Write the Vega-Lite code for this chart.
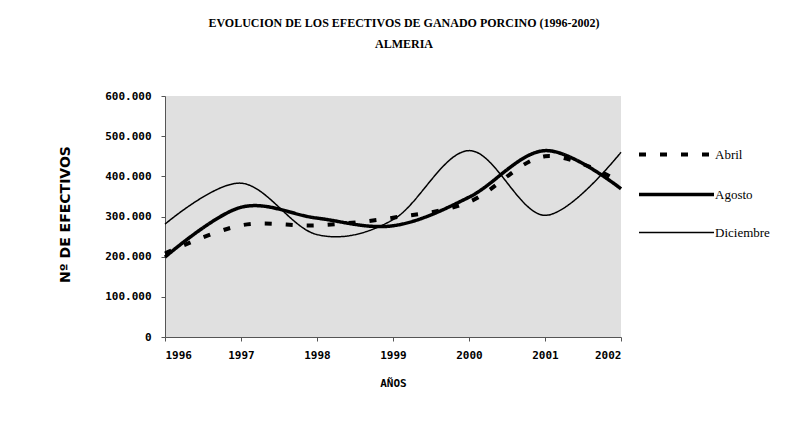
{
  "$schema": "https://vega.github.io/schema/vega-lite/v6.json",
  "width": 456,
  "height": 241,
  "autosize": "none",
  "padding": {"left": 165, "top": 96, "right": 169, "bottom": 89},
  "background": "white",
  "title": {
    "text": "EVOLUCION DE LOS EFECTIVOS DE GANADO PORCINO (1996-2002)",
    "subtitle": "ALMERIA",
    "font": "Liberation Serif",
    "fontSize": 12,
    "fontWeight": "bold",
    "subtitleFont": "Liberation Serif",
    "subtitleFontSize": 12,
    "subtitleFontWeight": "bold",
    "subtitleColor": "black",
    "subtitlePadding": 9,
    "color": "black",
    "anchor": "middle",
    "dx": 11,
    "offset": 39
  },
  "data": {
    "values": [
      {"year": 1996, "serie": "Abril", "value": 208000},
      {"year": 1997, "serie": "Abril", "value": 278000},
      {"year": 1998, "serie": "Abril", "value": 278000},
      {"year": 1999, "serie": "Abril", "value": 297000},
      {"year": 2000, "serie": "Abril", "value": 336000},
      {"year": 2001, "serie": "Abril", "value": 450000},
      {"year": 2002, "serie": "Abril", "value": 385000},
      {"year": 1996, "serie": "Agosto", "value": 199000},
      {"year": 1997, "serie": "Agosto", "value": 323000},
      {"year": 1998, "serie": "Agosto", "value": 296000},
      {"year": 1999, "serie": "Agosto", "value": 277000},
      {"year": 2000, "serie": "Agosto", "value": 348000},
      {"year": 2001, "serie": "Agosto", "value": 464000},
      {"year": 2002, "serie": "Agosto", "value": 369000},
      {"year": 1996, "serie": "Diciembre", "value": 281000},
      {"year": 1997, "serie": "Diciembre", "value": 383000},
      {"year": 1998, "serie": "Diciembre", "value": 255000},
      {"year": 1999, "serie": "Diciembre", "value": 292000},
      {"year": 2000, "serie": "Diciembre", "value": 464000},
      {"year": 2001, "serie": "Diciembre", "value": 303000},
      {"year": 2002, "serie": "Diciembre", "value": 460000}
    ]
  },
  "mark": {"type": "line", "interpolate": "cardinal", "color": "black"},
  "encoding": {
    "x": {
      "field": "year",
      "type": "quantitative",
      "scale": {"domain": [1996, 2002], "nice": false, "zero": false},
      "axis": {
        "title": "AÑOS",
        "values": [1996, 1997, 1998, 1999, 2000, 2001, 2002],
        "format": "d",
        "titleY": 46,
        "titleBaseline": "middle",
        "labelPadding": 8
      }
    },
    "y": {
      "field": "value",
      "type": "quantitative",
      "scale": {"domain": [0, 600000], "nice": false},
      "axis": {
        "title": "Nº DE EFECTIVOS",
        "values": [0, 100000, 200000, 300000, 400000, 500000, 600000],
        "labelExpr": "replace(format(datum.value, ','), ',', '.')",
        "labelPadding": 10,
        "titleX": -100,
        "titleY": 118,
        "titleAlign": "center",
        "titleBaseline": "middle",
        "titleAngle": 270,
        "titleFont": "DejaVu Sans",
        "titleFontSize": 14,
        "titleFontWeight": "bold"
      }
    },
    "strokeDash": {
      "field": "serie",
      "type": "nominal",
      "scale": {"domain": ["Abril", "Agosto", "Diciembre"], "range": [[7, 14], [1, 0], [1, 0]]},
      "legend": {
        "orient": "none",
        "legendX": 505,
        "legendY": 52,
        "title": null,
        "symbolType": "stroke",
        "symbolSize": 5625,
        "symbolStrokeColor": "black",
        "labelFont": "Liberation Serif",
        "labelFontSize": 13,
        "labelColor": "black",
        "labelOffset": 32,
        "rowPadding": 24,
        "encode": {
          "symbols": {
            "update": {
              "strokeWidth": {"signal": "datum.label === 'Diciembre' ? 1.5 : datum.label === 'Abril' ? 4 : 3.5"}
            }
          }
        }
      }
    },
    "strokeWidth": {
      "condition": [
        {"test": "datum.serie === 'Diciembre'", "value": 1.5},
        {"test": "datum.serie === 'Abril'", "value": 4}
      ],
      "value": 3.5
    }
  },
  "config": {
    "view": {"fill": "#e0e0e0", "stroke": null},
    "axis": {
      "grid": false,
      "domainColor": "#555555",
      "tickColor": "#555555",
      "tickSize": 4,
      "labelFont": "DejaVu Sans Mono",
      "labelFontSize": 11,
      "labelFontWeight": "bold",
      "labelColor": "black",
      "titleFont": "DejaVu Sans Mono",
      "titleFontSize": 11,
      "titleFontWeight": "bold",
      "titleColor": "black"
    }
  }
}
